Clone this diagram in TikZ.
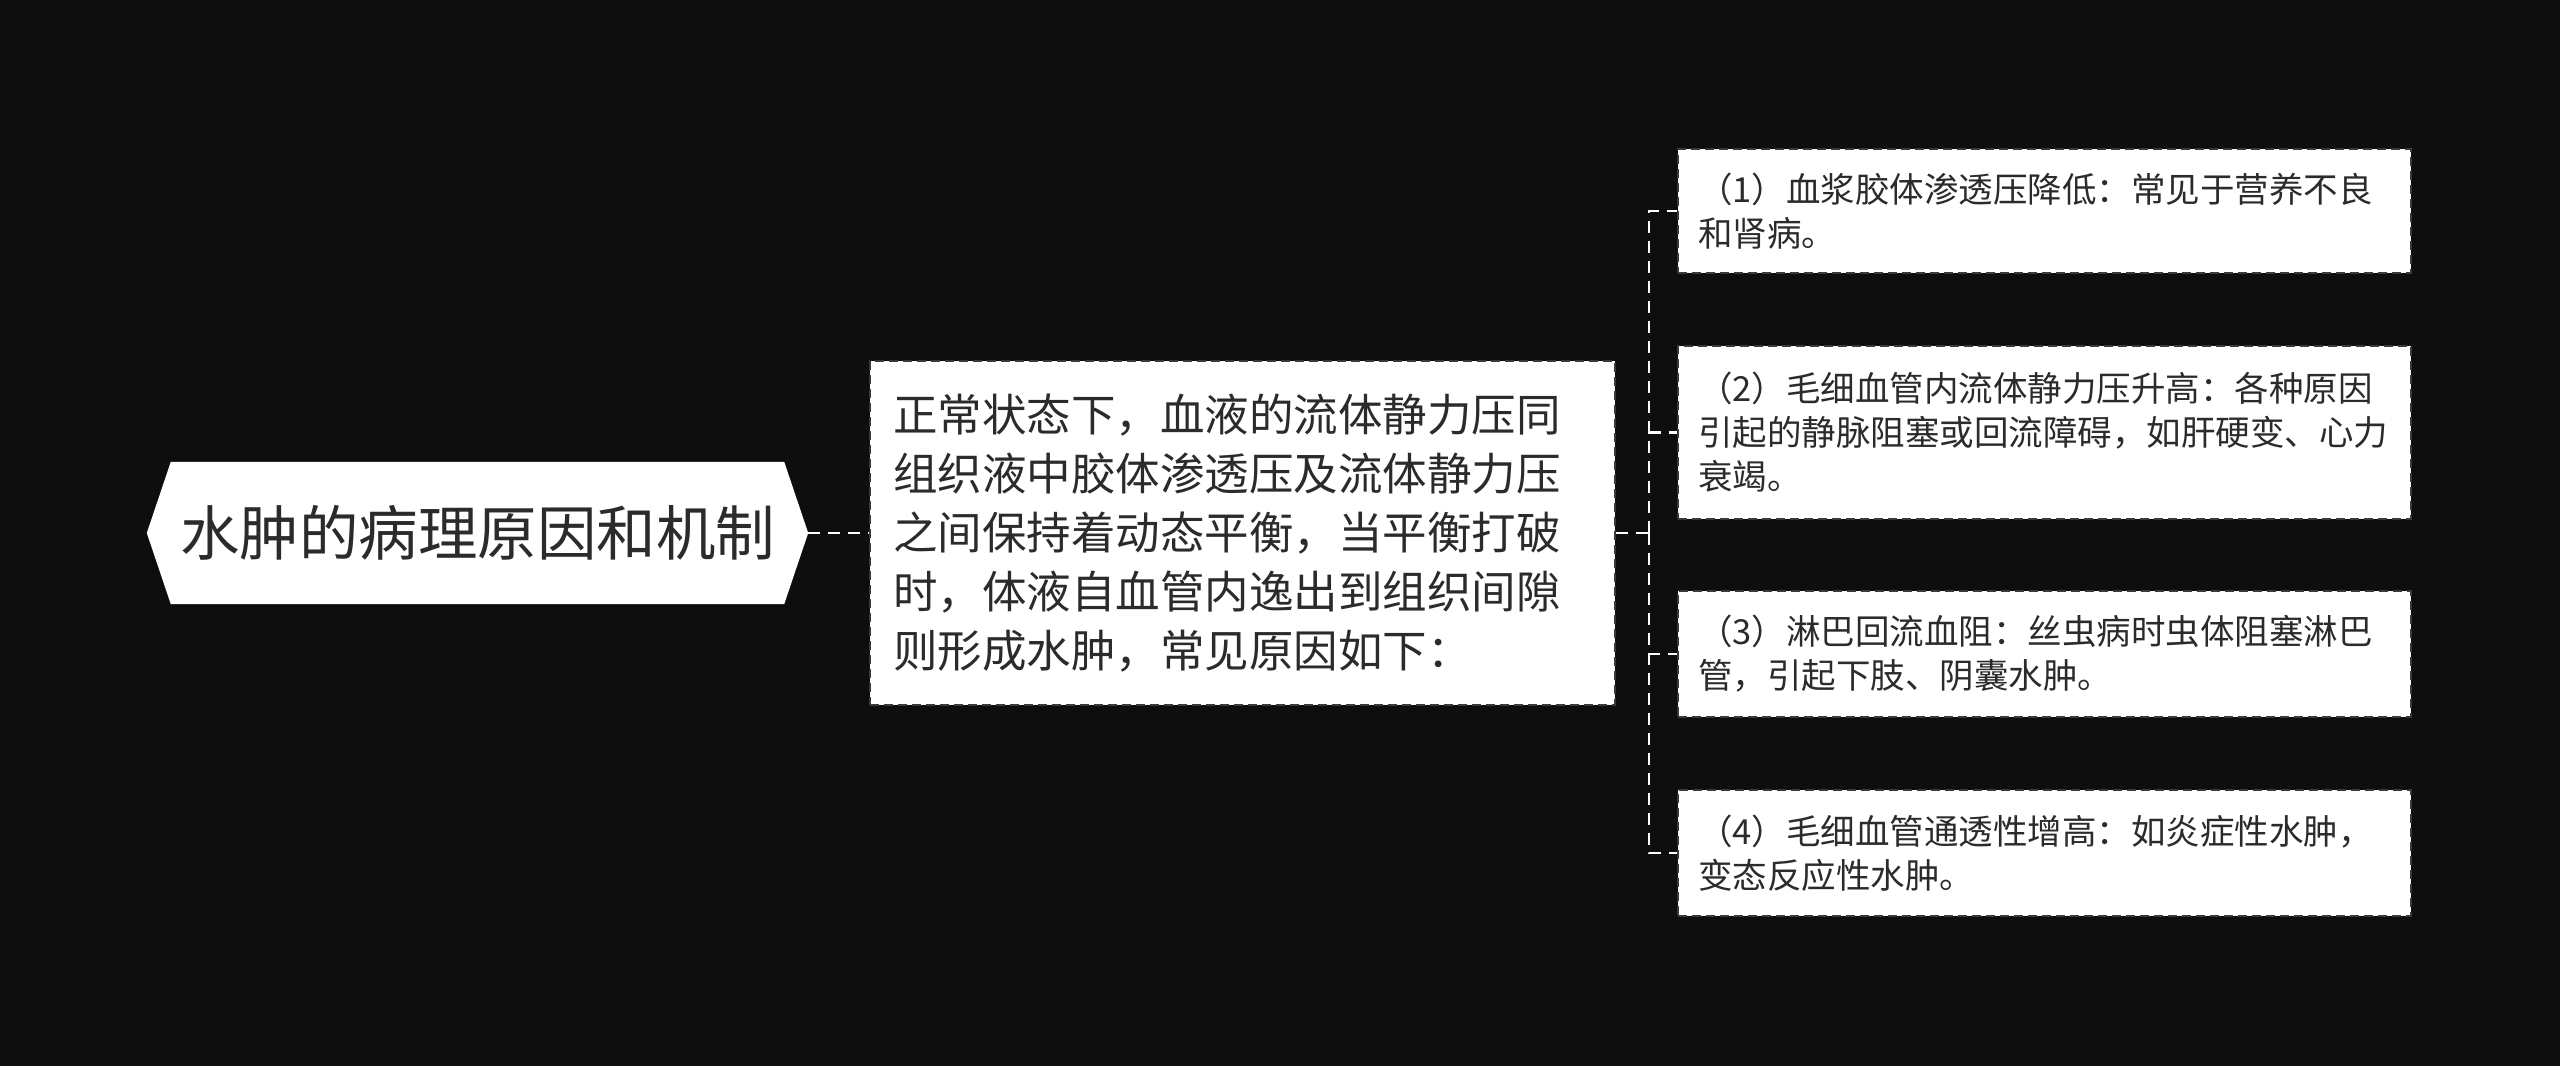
\documentclass[tikz,border=0pt]{standalone}
\usepackage{fontspec}
\newfontfamily\cjk{Noto Sans CJK SC}
\usetikzlibrary{backgrounds}
\definecolor{bgc}{HTML}{0E0E0E}
\definecolor{txt}{HTML}{2B2B2B}
\definecolor{bord}{HTML}{3A3A3A}
\tikzset{
  conn/.style={draw=white, line width=2.5pt, dash pattern=on 12pt off 8pt},
  rootbox/.style={inner sep=0pt, minimum width=661pt, minimum height=142pt, text=txt,
    font=\cjk\fontsize{59.5}{70}\selectfont},
  midbox/.style={fill=white, draw=bord, line width=2.5pt, dash pattern=on 9pt off 5pt,
    minimum width=745pt, minimum height=344pt, inner xsep=23pt, text width=699pt, align=left,
    text=txt, font=\cjk\fontsize{44.5}{59}\selectfont},
  leafbox/.style={fill=white, draw=bord, line width=2.5pt, dash pattern=on 9pt off 5pt,
    minimum width=733pt, inner xsep=20pt, text width=693pt, align=left,
    text=txt, font=\cjk\fontsize{34.5}{44}\selectfont},
}
\begin{document}
\begin{tikzpicture}[x=1pt, y=-1pt]
\useasboundingbox (0,0) rectangle (2560,1066);
\begin{pgfonlayer}{background}
\fill[bgc] (0,0) rectangle (2560,1066);
\end{pgfonlayer}

\node[rootbox] (root) at (477.5,533) {水肿的病理原因和机制};
\begin{pgfonlayer}{background}
\fill[white] (root.west) -- ([xshift=24pt]root.north west) -- ([xshift=-24pt]root.north east)
  -- (root.east) -- ([xshift=-24pt]root.south east) -- ([xshift=24pt]root.south west) -- cycle;
\end{pgfonlayer}

\node[midbox] (mid) at (1242.5,533) {正常状态下，血液的流体静力压同\\组织液中胶体渗透压及流体静力压\\之间保持着动态平衡，当平衡打破\\时，体液自血管内逸出到组织间隙\\则形成水肿，常见原因如下：};

\node[leafbox, minimum height=124pt] (n1) at (2044.5,211) {（1）血浆胶体渗透压降低：常见于营养不良\\和肾病。};
\node[leafbox, minimum height=173pt] (n2) at (2044.5,432.5) {（2）毛细血管内流体静力压升高：各种原因\\引起的静脉阻塞或回流障碍，如肝硬变、心力\\衰竭。};
\node[leafbox, minimum height=126pt] (n3) at (2044.5,654) {（3）淋巴回流血阻：丝虫病时虫体阻塞淋巴\\管，引起下肢、阴囊水肿。};
\node[leafbox, minimum height=126pt] (n4) at (2044.5,853) {（4）毛细血管通透性增高：如炎症性水肿，\\变态反应性水肿。};

\coordinate (j) at (1649,533);
\draw[conn] (root.east) -- (mid.west);
\draw[conn] (mid.east) -- (j);
\draw[conn] (j) |- (n1.west);
\draw[conn] (j) |- (n2.west);
\draw[conn] (j) |- (n3.west);
\draw[conn] (j) |- (n4.west);
\end{tikzpicture}
\end{document}
